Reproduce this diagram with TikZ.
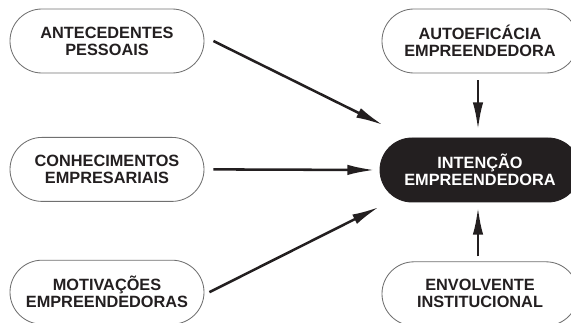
\documentclass[tikz,border=0pt]{standalone}
\usepackage{fontspec}
\setmainfont{Liberation Sans}
\usepackage{tikz}
\usetikzlibrary{shapes.misc,arrows.meta,calc}

\definecolor{ink}{HTML}{231F20}
\definecolor{rim}{HTML}{707070}

\begin{document}
\begin{tikzpicture}[
  factor/.style={rounded rectangle, draw=rim, line width=0.6pt, fill=white, text=ink,
    align=center, minimum width=4.85cm, minimum height=1.6cm, inner sep=0pt,
    font=\fontsize{11.6}{12.2}\selectfont\bfseries},
  target/.style={factor, draw=ink, fill=ink, text=white, minimum width=5cm},
  link/.style={ink, line width=1.8pt, -{Latex[length=0.68cm,width=0.26cm]}}
]
\useasboundingbox (0,0) rectangle (14.275,8.075);

\node [factor] (antec) at (2.675,7.05) {ANTECEDENTES\\PESSOAIS};
\node [factor] (conhec) at (2.675,3.84) {CONHECIMENTOS\\EMPRESARIAIS};
\node [factor] (motiv) at (2.675,0.77) {MOTIVAÇÕES\\EMPREENDEDORAS};

\node [factor, minimum width=4.9cm] (autoef) at (12.0,7.05) {AUTOEFICÁCIA\\EMPREENDEDORA};
\node [target] (intencao) at (12.0,3.825) {INTENÇÃO\\EMPREENDEDORA};
\node [factor, minimum width=4.9cm] (envolv) at (12.0,0.73) {ENVOLVENTE\\INSTITUCIONAL};

\draw [link] ([xshift=0.225cm]antec.east) -- ([shift={(-2.425,1.125)}]intencao.center);
\draw [link] ([xshift=0.225cm]conhec.east) -- ([xshift=-0.125cm]intencao.west);
\draw [link] ([xshift=0.125cm]motiv.east) -- ([shift={(-2.525,-0.925)}]intencao.center);
\draw [link] ([xshift=-0.05cm,yshift=-0.175cm]autoef.south) -- ([xshift=-0.05cm,yshift=0.2cm]intencao.north);
\draw [link] ([xshift=-0.05cm,yshift=0.125cm]envolv.north) -- ([xshift=-0.05cm,yshift=-0.125cm]intencao.south);

\end{tikzpicture}
\end{document}
